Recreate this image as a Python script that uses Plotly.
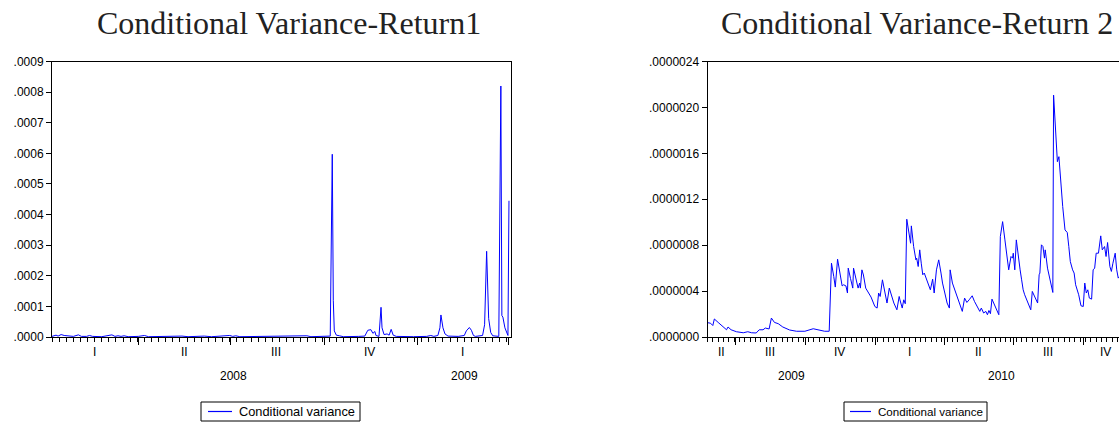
import plotly.graph_objects as go
from datetime import date, timedelta

W, H = 1119, 423

# ---------------- data: Conditional Variance - Return 1 ----------------
r1_dates = [
    "2008-01-07", "2008-01-09", "2008-01-11", "2008-01-13", "2008-01-16", "2008-01-19",
    "2008-01-23", "2008-01-28", "2008-02-02", "2008-02-05", "2008-02-10", "2008-02-13",
    "2008-02-16", "2008-02-25", "2008-03-06", "2008-03-09", "2008-03-12", "2008-03-15",
    "2008-03-18", "2008-03-22", "2008-04-01", "2008-04-07", "2008-04-11", "2008-04-25",
    "2008-05-14", "2008-05-20", "2008-06-05", "2008-06-12", "2008-06-30", "2008-07-03",
    "2008-07-06", "2008-07-10", "2008-08-01", "2008-08-25", "2008-09-14", "2008-09-18",
    "2008-10-01", "2008-10-07", "2008-10-09", "2008-10-10", "2008-10-11", "2008-10-13",
    "2008-10-16", "2008-10-20", "2008-11-04", "2008-11-10", "2008-11-13", "2008-11-15",
    "2008-11-16", "2008-11-18", "2008-11-20", "2008-11-21", "2008-11-24", "2008-11-26",
    "2008-11-27", "2008-11-29", "2008-12-02", "2008-12-04", "2008-12-06", "2008-12-08",
    "2008-12-11", "2008-12-28", "2009-01-10", "2009-01-14", "2009-01-17", "2009-01-21",
    "2009-01-23", "2009-01-24", "2009-01-26", "2009-01-28", "2009-01-31", "2009-02-10",
    "2009-02-16", "2009-02-18", "2009-02-21", "2009-02-23", "2009-02-25", "2009-02-27",
    "2009-03-06", "2009-03-08", "2009-03-10", "2009-03-12", "2009-03-14", "2009-03-16",
    "2009-03-22", "2009-03-24", "2009-03-25", "2009-03-26", "2009-03-28", "2009-03-31",
    "2009-04-01",
]
r1_values = [
    0.000002, 0.000003, 0.000006, 0.000003, 0.000008, 0.000005,
    0.000003, 0.000002, 0.000007, 0.000002, 0.000002, 0.000005,
    0.000002, 0.000001, 0.000007, 0.000002, 0.000004, 0.000002,
    0.000004, 0.000001, 0.000002, 0.000005, 0.000001, 0.000002,
    0.000003, 0.000001, 0.000003, 0.000001, 0.000005, 0.000002,
    0.000004, 0.000001, 0.000002, 0.000001, 0.000004, 0.000001,
    0.000001, 0.000003, 0.000597, 0.000120, 0.000020, 0.000006,
    0.000004, 0.000001, 0.000002, 0.000003, 0.000022, 0.000025,
    0.000024, 0.000012, 0.000018, 0.000005, 0.000002, 0.000097,
    0.000030, 0.000008, 0.000010, 0.000006, 0.000025, 0.000006,
    0.000002, 0.000001, 0.000002, 0.000005, 0.000002, 0.000005,
    0.000030, 0.000072, 0.000030, 0.000010, 0.000003, 0.000002,
    0.000005, 0.000020, 0.000031, 0.000022, 0.000005, 0.000002,
    0.000005, 0.000040, 0.000280, 0.000060, 0.000015, 0.000004,
    0.000002, 0.000820, 0.000070, 0.000065, 0.000030, 0.000005,
    0.000445,
]

# ---------------- data: Conditional Variance - Return 2 ----------------
r2_dates = [
    "2009-05-25", "2009-05-29", "2009-06-01", "2009-06-03", "2009-06-08", "2009-06-14",
    "2009-06-19", "2009-06-21", "2009-06-25", "2009-07-02", "2009-07-11", "2009-07-17",
    "2009-07-22", "2009-07-28", "2009-08-01", "2009-08-06", "2009-08-09", "2009-08-14",
    "2009-08-17", "2009-08-21", "2009-08-26", "2009-09-01", "2009-09-10", "2009-09-19",
    "2009-09-30", "2009-10-11", "2009-10-19", "2009-10-26", "2009-11-01", "2009-11-04",
    "2009-11-07", "2009-11-09", "2009-11-12", "2009-11-15", "2009-11-18", "2009-11-20",
    "2009-11-23", "2009-11-25", "2009-11-26", "2009-11-29", "2009-12-02", "2009-12-03",
    "2009-12-07", "2009-12-09", "2009-12-11", "2009-12-12", "2009-12-14", "2009-12-16",
    "2009-12-19", "2009-12-22", "2009-12-26", "2009-12-31", "2010-01-03", "2010-01-05",
    "2010-01-07", "2010-01-10", "2010-01-13", "2010-01-16", "2010-01-19", "2010-01-22",
    "2010-01-25", "2010-01-29", "2010-02-01", "2010-02-02", "2010-02-05", "2010-02-07",
    "2010-02-09", "2010-02-11", "2010-02-14", "2010-02-16", "2010-02-17", "2010-02-20",
    "2010-02-23", "2010-02-24", "2010-02-26", "2010-02-28", "2010-03-02", "2010-03-04",
    "2010-03-06", "2010-03-09", "2010-03-11", "2010-03-14", "2010-03-17", "2010-03-19",
    "2010-03-22", "2010-03-25", "2010-03-28", "2010-03-30", "2010-04-02", "2010-04-05",
    "2010-04-08", "2010-04-09", "2010-04-12", "2010-04-15", "2010-04-18", "2010-04-22",
    "2010-04-25", "2010-04-28", "2010-05-01", "2010-05-04", "2010-05-08", "2010-05-11",
    "2010-05-14", "2010-05-18", "2010-05-20", "2010-05-23", "2010-05-26", "2010-05-28",
    "2010-05-30", "2010-06-01", "2010-06-03", "2010-06-07", "2010-06-10", "2010-06-12",
    "2010-06-14", "2010-06-17", "2010-06-20", "2010-06-23", "2010-06-25", "2010-06-28",
    "2010-06-30", "2010-07-01", "2010-07-03", "2010-07-05", "2010-07-07", "2010-07-10",
    "2010-07-12", "2010-07-14", "2010-07-16", "2010-07-19", "2010-07-22", "2010-07-24",
    "2010-07-26", "2010-07-28", "2010-07-30", "2010-08-02", "2010-08-04", "2010-08-05",
    "2010-08-07", "2010-08-09", "2010-08-11", "2010-08-12", "2010-08-15", "2010-08-19",
    "2010-08-22", "2010-08-23", "2010-08-26", "2010-08-28", "2010-08-30", "2010-09-01",
    "2010-09-04", "2010-09-07", "2010-09-10", "2010-09-12", "2010-09-14", "2010-09-17",
    "2010-09-19", "2010-09-21", "2010-09-23", "2010-09-25", "2010-09-28", "2010-10-01",
    "2010-10-03", "2010-10-05", "2010-10-07", "2010-10-09", "2010-10-12", "2010-10-14",
    "2010-10-16", "2010-10-18", "2010-10-21", "2010-10-24", "2010-10-26", "2010-10-29",
    "2010-10-31", "2010-11-02", "2010-11-05", "2010-11-07", "2010-11-09", "2010-11-12",
    "2010-11-14", "2010-11-16", "2010-11-19",
]
r2_values = [
    1.25e-7, 1.20e-7, 1.00e-7, 1.57e-7, 1.27e-7, 0.92e-7,
    0.63e-7, 0.87e-7, 0.63e-7, 0.46e-7, 0.37e-7, 0.46e-7,
    0.37e-7, 0.35e-7, 0.63e-7, 0.63e-7, 0.78e-7, 0.70e-7,
    1.65e-7, 1.27e-7, 1.16e-7, 0.87e-7, 0.61e-7, 0.50e-7,
    0.50e-7, 0.72e-7, 0.63e-7, 0.50e-7, 0.50e-7, 6.43e-7,
    5.27e-7, 4.35e-7, 6.78e-7, 5.57e-7, 4.45e-7, 4.55e-7,
    4.45e-7, 3.83e-7, 6.00e-7, 5.10e-7, 4.26e-7, 6.00e-7,
    4.95e-7, 4.26e-7, 4.70e-7, 4.26e-7, 5.85e-7, 5.40e-7,
    4.26e-7, 3.90e-7, 3.48e-7, 2.66e-7, 2.52e-7, 3.83e-7,
    3.53e-7, 4.98e-7, 3.97e-7, 2.96e-7, 4.26e-7, 3.53e-7,
    2.96e-7, 2.37e-7, 3.53e-7, 3.24e-7, 2.52e-7, 3.24e-7,
    2.90e-7, 1.026e-6, 9.04e-7, 8.17e-7, 9.68e-7, 7.88e-7,
    6.72e-7, 6.87e-7, 6.14e-7, 7.59e-7, 6.43e-7, 5.42e-7,
    5.57e-7, 4.98e-7, 4.70e-7, 4.11e-7, 5.04e-7, 3.83e-7,
    5.85e-7, 6.72e-7, 5.57e-7, 4.70e-7, 3.83e-7, 2.96e-7,
    2.52e-7, 5.85e-7, 4.70e-7, 4.11e-7, 3.53e-7, 2.81e-7,
    2.23e-7, 3.39e-7, 3.01e-7, 3.24e-7, 3.59e-7, 3.10e-7,
    2.66e-7, 2.23e-7, 2.52e-7, 2.09e-7, 2.23e-7, 1.94e-7,
    2.31e-7, 2.03e-7, 3.30e-7, 2.66e-7, 2.23e-7, 1.94e-7,
    8.75e-7, 1.005e-6, 8.46e-7, 7.01e-7, 5.85e-7, 7.01e-7,
    6.87e-7, 7.30e-7, 5.85e-7, 8.46e-7, 7.16e-7, 5.85e-7,
    4.98e-7, 4.11e-7, 3.68e-7, 3.24e-7, 2.66e-7, 2.37e-7,
    3.97e-7, 3.68e-7, 3.24e-7, 2.96e-7, 5.42e-7, 5.57e-7,
    8.03e-7, 7.88e-7, 6.87e-7, 7.59e-7, 6.00e-7, 4.84e-7,
    3.88e-7, 2.107e-6, 1.803e-6, 1.527e-6, 1.571e-6, 1.368e-6,
    1.136e-6, 9.33e-7, 9.10e-7, 7.88e-7, 6.57e-7, 5.85e-7,
    5.57e-7, 4.55e-7, 4.11e-7, 3.68e-7, 2.72e-7, 2.66e-7,
    4.70e-7, 3.83e-7, 4.11e-7, 3.39e-7, 3.30e-7, 5.85e-7,
    6.00e-7, 7.30e-7, 7.30e-7, 8.81e-7, 7.59e-7, 7.88e-7,
    7.01e-7, 8.23e-7, 6.14e-7, 5.71e-7, 6.43e-7, 7.30e-7,
    5.85e-7, 5.13e-7, 5.40e-7,
]

# tick labels
r1_yticks = [0.0, 0.0001, 0.0002, 0.0003, 0.0004, 0.0005, 0.0006, 0.0007, 0.0008, 0.0009]
r1_ytext = [".0000", ".0001", ".0002", ".0003", ".0004", ".0005", ".0006", ".0007", ".0008", ".0009"]
r2_yticks = [0.0, 4e-7, 8e-7, 1.2e-6, 1.6e-6, 2.0e-6, 2.4e-6]
r2_ytext = [".0000000", ".0000004", ".0000008", ".0000012", ".0000016", ".0000020", ".0000024"]
quarter_names = ["I", "II", "III", "IV"]

titles = ["Conditional Variance-Return1", "Conditional Variance-Return 2"]
legend_name = "Conditional variance"

# axis extents
r1_range = ("2008-01-07", "2009-04-03")
r2_range = ("2009-05-25", "2010-11-17")
r2_label_end = "2010-11-28"   # the series continues a little past the cropped edge

SANS = "Liberation Sans, Arial, sans-serif"
SERIF = "Liberation Serif, Times New Roman, serif"
BLUE = "#0000ff"


def d(s):
    return date.fromisoformat(s)


def quarter_bounds(start, end):
    """Quarter boundaries strictly inside (start, end]."""
    out = []
    y, m = start.year, ((start.month - 1) // 3) * 3 + 1
    cur = date(y, m, 1)
    while cur <= end:
        if cur > start:
            out.append(cur)
        m += 3
        if m > 12:
            m -= 12
            y += 1
        cur = date(y, m, 1)
    return out


def mid(a, b):
    return a + (b - a) / 2


def period_labels(start, end):
    qs, ys = [], []
    y, m = start.year, ((start.month - 1) // 3) * 3 + 1
    cur = date(y, m, 1)
    while cur <= end:
        nm, ny = m + 3, y
        if nm > 12:
            nm -= 12
            ny += 1
        nxt = date(ny, nm, 1)
        a, b = max(cur, start), min(nxt - timedelta(days=1), end)
        if (b - a).days >= 14:
            qs.append((mid(a, b), quarter_names[(m - 1) // 3]))
        y, m, cur = ny, nm, nxt
    for yr in range(start.year, end.year + 1):
        a = max(date(yr, 1, 1), start)
        b = min(date(yr, 12, 31), end)
        ys.append((mid(a, b), str(yr)))
    return qs, ys


fig = go.Figure()
fig.add_trace(go.Scatter(x=r1_dates, y=r1_values, mode="lines", name=legend_name,
                         line=dict(color=BLUE, width=1), xaxis="x", yaxis="y",
                         showlegend=False, hoverinfo="skip"))
fig.add_trace(go.Scatter(x=r2_dates, y=r2_values, mode="lines", name=legend_name,
                         line=dict(color=BLUE, width=1), xaxis="x2", yaxis="y2",
                         showlegend=False, hoverinfo="skip"))

ydom = [86 / H, 361.5 / H]
WEEK = 7 * 86400000


def xaxis_cfg(rng, dom, anchor):
    s, e = d(rng[0]), d(rng[1])
    return dict(domain=dom, range=list(rng), type="date", anchor=anchor,
                tickmode="array", tickvals=[q.isoformat() for q in quarter_bounds(s, e)],
                showticklabels=False, ticks="outside", ticklen=7, tickwidth=1,
                tickcolor="black", showline=True, linecolor="black", linewidth=1,
                mirror=True, showgrid=False, zeroline=False, fixedrange=True,
                minor=dict(ticks="outside", ticklen=4, tickwidth=1, tickcolor="black",
                           dtick=WEEK, tick0=rng[0], showgrid=False))


def yaxis_cfg(vals, text, top, anchor, mirror):
    return dict(domain=ydom, range=[0, top], anchor=anchor, tickmode="array",
                tickvals=vals, ticktext=text, ticks="outside", ticklen=5,
                tickcolor="black", showline=True, linecolor="black", linewidth=1,
                mirror=mirror, showgrid=False, zeroline=False, fixedrange=True,
                automargin=False,
                tickfont=dict(family=SANS, size=12, color="black"))


fig.update_layout(
    width=W, height=H, margin=dict(l=0, r=0, t=0, b=0, autoexpand=False),
    paper_bgcolor="white", plot_bgcolor="white", showlegend=False,
    xaxis=xaxis_cfg(r1_range, [52 / W, 511 / W], "y"),
    yaxis=yaxis_cfg(r1_yticks, r1_ytext, r1_yticks[-1], "x", True),
    xaxis2=xaxis_cfg(r2_range, [707.5 / W, 1.0], "y2"),
    yaxis2=yaxis_cfg(r2_yticks, r2_ytext, r2_yticks[-1], "x2", False),
)

ann = []
for t, cx in zip(titles, (289, 916.5)):
    ann.append(dict(text=t, x=cx / W, y=1 - 23 / H, xref="paper", yref="paper",
                    xanchor="center", yanchor="middle", showarrow=False,
                    font=dict(family=SERIF, size=32, color="#222222")))

for xr, rng, lab_end in (("x", r1_range, r1_range[1]), ("x2", r2_range, r2_label_end)):
    qs, ys = period_labels(d(rng[0]), d(lab_end))
    for xm, t in qs:
        ann.append(dict(text=t, x=xm.isoformat(), y=1 - 352 / H, xref=xr, yref="paper",
                        xanchor="center", yanchor="middle", showarrow=False,
                        font=dict(family=SANS, size=12, color="black")))
    for xm, t in ys:
        ann.append(dict(text=t, x=xm.isoformat(), y=1 - 376 / H, xref=xr, yref="paper",
                        xanchor="center", yanchor="middle", showarrow=False,
                        font=dict(family=SANS, size=12, color="black")))

# legend boxes (one per panel): box, line sample, label
shapes = []
legend_boxes = [  # (box x0, box x1, sample x0, sample x1, text x, font size)
    (201, 360, 208, 232, 237, 12.8),
    (844, 987, 850, 871, 876, 11.6),
]
for bx0, bx1, sx0, sx1, tx, fs in legend_boxes:
    shapes.append(dict(type="rect", xref="paper", yref="paper",
                       x0=bx0 / W, x1=bx1 / W, y0=1 - 421 / H, y1=1 - 402 / H,
                       line=dict(color="black", width=1), fillcolor="white"))
    shapes.append(dict(type="line", xref="paper", yref="paper",
                       x0=sx0 / W, x1=sx1 / W, y0=1 - 411.5 / H, y1=1 - 411.5 / H,
                       line=dict(color=BLUE, width=1.2)))
    ann.append(dict(text=legend_name, x=tx / W, y=1 - 411.5 / H, xref="paper", yref="paper",
                    xanchor="left", yanchor="middle", showarrow=False,
                    font=dict(family=SANS, size=fs, color="black")))

fig.update_layout(annotations=ann, shapes=shapes)
fig.write_html("out.html", config={"displayModeBar": False},
               post_script="document.body.style.margin='0';document.body.style.overflow='hidden';")
